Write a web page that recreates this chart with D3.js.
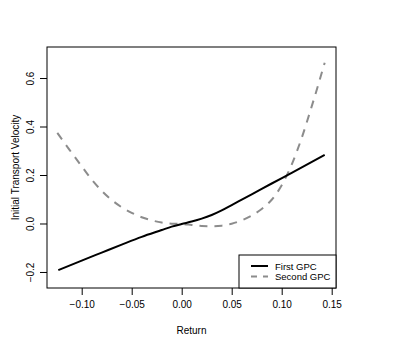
<!DOCTYPE html>
<html>
<head>
<meta charset="utf-8">
<script src="https://cdn.jsdelivr.net/npm/d3@7"></script>
<style>
  html, body { margin: 0; padding: 0; background: #fff; }
  svg { display: block; font-family: "Liberation Sans", Arial, Helvetica, sans-serif; }
</style>
</head>
<body>
<svg id="chart" width="407" height="349"></svg>
<script>
// ---- data ----
const firstX  = [-0.1234, -0.10, -0.08, -0.06, -0.04, -0.02, -0.01, 0.0, 0.01, 0.02, 0.03, 0.04, 0.05, 0.07, 0.09, 0.11, 0.143];
const firstY  = [-0.190, -0.151, -0.118, -0.085, -0.053, -0.025, -0.011, 0.0, 0.010, 0.022, 0.037, 0.056, 0.078, 0.122, 0.167, 0.211, 0.285];
const secondX = [-0.1244, -0.112, -0.10, -0.09, -0.08, -0.07, -0.06, -0.05, -0.04, -0.03, -0.02, -0.01, 0.0, 0.01, 0.02, 0.03, 0.04, 0.05, 0.06, 0.07, 0.08, 0.09, 0.10, 0.11, 0.12, 0.13, 0.143];
const secondY = [0.376, 0.305, 0.238, 0.183, 0.137, 0.099, 0.069, 0.046, 0.028, 0.015, 0.006, 0.0015, 0.0, -0.004, -0.008, -0.009, -0.007, 0.001, 0.015, 0.035, 0.062, 0.100, 0.160, 0.245, 0.355, 0.485, 0.665];
const xTicks = [-0.10, -0.05, 0.00, 0.05, 0.10, 0.15];
const yTicks = [-0.2, 0.0, 0.2, 0.4, 0.6];
const seriesNames = ["First GPC", "Second GPC"];
const xTitle = "Return";
const yTitle = "Initial Transport Velocity";

const svg = d3.select("#chart");
const L = 47, R = 336, T = 47, B = 288;

const x = d3.scaleLinear().domain([-0.1347, 0.1543]).range([L, R]);
const y = d3.scaleLinear().domain([-0.264, 0.730]).range([B, T]);

const fmtX = v => d3.format(".2f")(v).replace("-", "\u2212");
const fmtY = v => d3.format(".1f")(v).replace("-", "\u2212");

// x axis
const xAxis = d3.axisBottom(x).tickValues(xTicks).tickFormat(fmtX).tickSizeOuter(0).tickSize(7).tickPadding(6);
const gx = svg.append("g").attr("transform", `translate(0,${B})`).call(xAxis);
gx.select(".domain").remove();
gx.selectAll("text").attr("font-size", 10).attr("fill", "#000").attr("font-family", "Liberation Sans, Arial, sans-serif");
gx.selectAll("line").attr("stroke", "#000");

// y axis
const yAxis = d3.axisLeft(y).tickValues(yTicks).tickFormat(fmtY).tickSizeOuter(0).tickSize(7);
const gy = svg.append("g").attr("transform", `translate(${L},0)`).call(yAxis);
gy.select(".domain").remove();
gy.selectAll("line").attr("stroke", "#000");
gy.selectAll("text")
  .attr("font-size", 10).attr("fill", "#000").attr("font-family", "Liberation Sans, Arial, sans-serif")
  .attr("text-anchor", "middle").attr("x", null).attr("dy", null)
  .attr("transform", d => `translate(-17,${y(d)}) rotate(-90)`)
  .attr("y", 0)
  .attr("dominant-baseline", "central");
gy.selectAll(".tick").attr("transform", d => null);
gy.selectAll(".tick line").attr("transform", d => `translate(0,${y(d)})`);

// titles
svg.append("text").attr("x", (L + R) / 2).attr("y", 334).attr("text-anchor", "middle")
  .attr("font-size", 10).text(xTitle);
svg.append("text").attr("transform", `translate(19,${(T + B) / 2}) rotate(-90)`)
  .attr("text-anchor", "middle").attr("font-size", 10).text(yTitle);

// lines
const line = d3.line().x(d => x(d[0])).y(d => y(d[1])).curve(d3.curveMonotoneX);
const first = firstX.map((v, i) => [v, firstY[i]]);
const second = secondX.map((v, i) => [v, secondY[i]]);

svg.append("path").datum(second).attr("d", line).attr("fill", "none")
  .attr("stroke", "#8c8c8c").attr("stroke-width", 2).attr("stroke-dasharray", "8,7");
svg.append("path").datum(first).attr("d", line).attr("fill", "none")
  .attr("stroke", "#000").attr("stroke-width", 2);

// box
svg.append("rect").attr("x", L).attr("y", T).attr("width", R - L).attr("height", B - T)
  .attr("fill", "none").attr("stroke", "#000").attr("stroke-width", 1);

// legend
const lg = svg.append("g");
lg.append("rect").attr("x", 239).attr("y", 255).attr("width", R - 239).attr("height", B - 255)
  .attr("fill", "#fff").attr("stroke", "#000").attr("stroke-width", 1);
const styles = [{c: "#000", d: null}, {c: "#8c8c8c", d: "6,6"}];
seriesNames.forEach((n, i) => {
  const yy = 266 + i * 10.5;
  lg.append("line").attr("x1", 251).attr("x2", 268).attr("y1", yy).attr("y2", yy)
    .attr("stroke", styles[i].c).attr("stroke-width", 2).attr("stroke-dasharray", styles[i].d);
  lg.append("text").attr("x", 275).attr("y", yy).attr("dominant-baseline", "central")
    .attr("font-size", 9.5).text(n);
});
</script>
</body>
</html>
